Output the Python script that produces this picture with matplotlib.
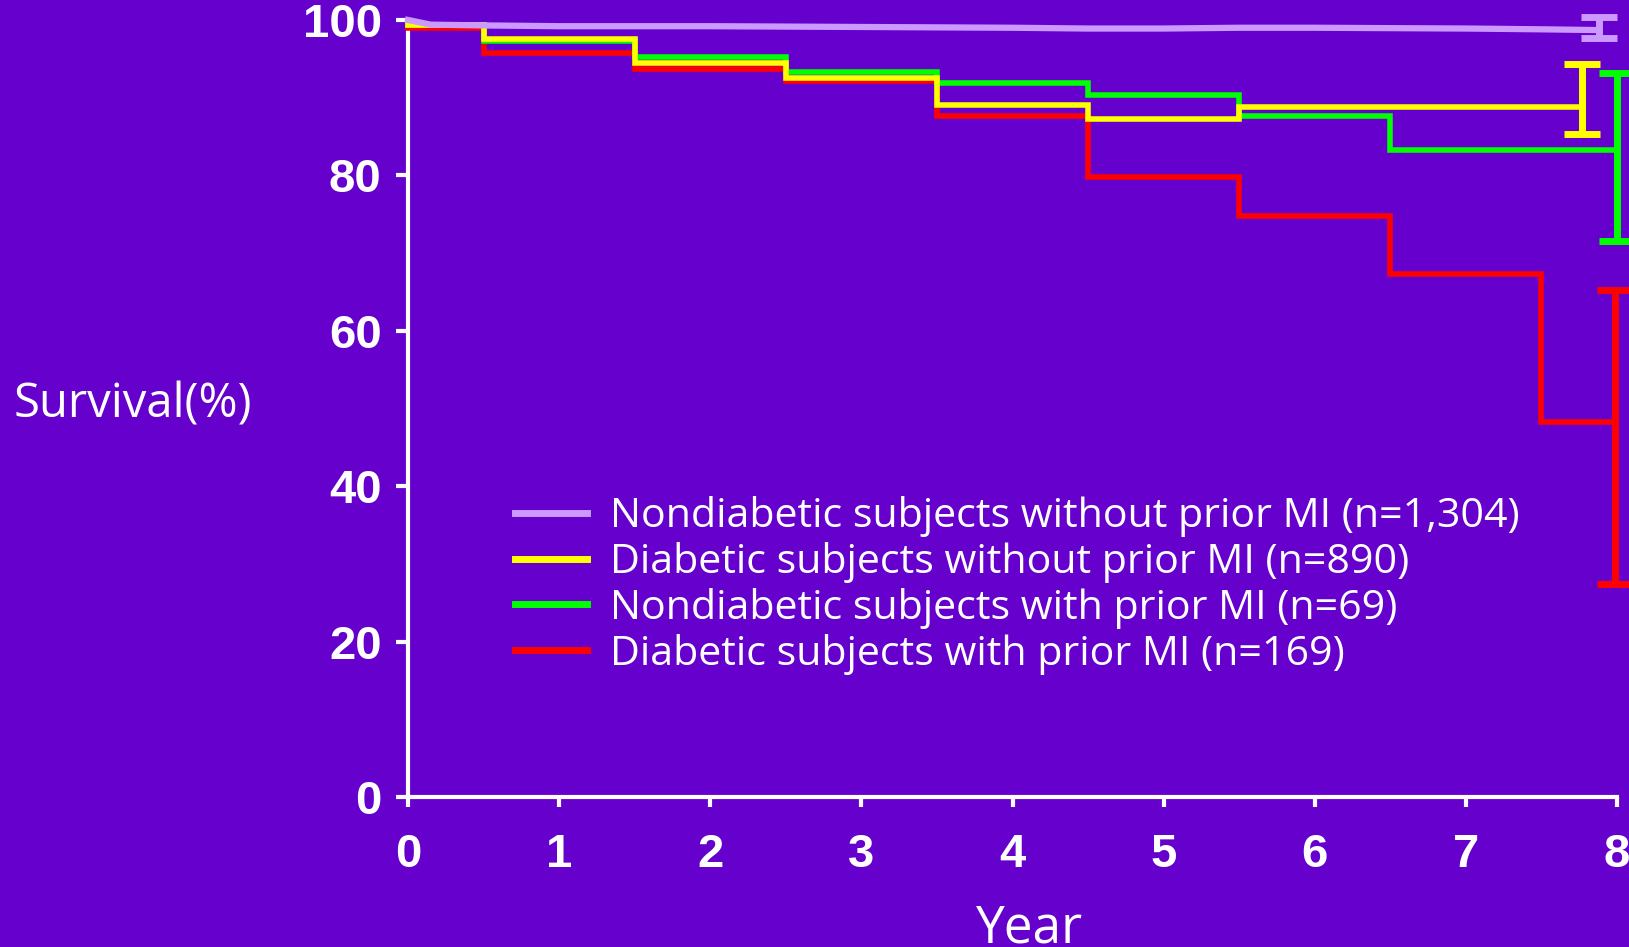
import matplotlib
matplotlib.use('Agg')
import matplotlib.pyplot as plt

BG = '#6600CC'
COLORS = {
    'nd_nomi': '#CC99FF',
    'd_nomi': '#FFFF00',
    'nd_mi': '#00FF00',
    'd_mi': '#FF0000',
}

labels = [
    'Nondiabetic subjects without prior MI (n=1,304)',
    'Diabetic subjects without prior MI (n=890)',
    'Nondiabetic subjects with prior MI (n=69)',
    'Diabetic subjects with prior MI (n=169)',
]

# Kaplan-Meier estimates (survival %, by year)
nd_nomi_t = [0, 0.15, 0.5, 1, 2, 3, 4, 4.5, 5, 5.5, 6, 7, 7.5, 7.88]
nd_nomi_s = [100, 99.4, 99.3, 99.2, 99.2, 99.1, 99.0, 98.9, 98.9, 99.0, 99.0, 98.9, 98.8, 98.7]

d_nomi_t = [0, 0.5, 1.5, 2.5, 3.5, 4.5, 5.5, 7.77]
d_nomi_s = [99.3, 97.6, 94.4, 92.5, 89.0, 87.3, 88.8, 88.8]

nd_mi_t = [0, 0.5, 1.5, 2.5, 3.5, 4.5, 5.5, 6.5, 8.0]
nd_mi_s = [99.3, 97.3, 95.2, 93.3, 91.9, 90.3, 87.7, 83.3, 83.3]

d_mi_t = [0, 0.5, 1.5, 2.5, 3.5, 4.5, 5.5, 6.5, 7.5, 7.99]
d_mi_s = [99.0, 95.7, 93.7, 92.2, 87.6, 79.8, 74.8, 67.3, 48.3, 48.3]

# 95% CI at end of follow-up: (year, lower, upper)
ci_nd_nomi = (7.88, 97.7, 100.4)
ci_d_nomi = (7.77, 85.3, 94.3)
ci_nd_mi = (8.0, 71.5, 93.2)
ci_d_mi = (7.99, 27.4, 65.3)

fig = plt.figure(figsize=(16.29, 9.47), dpi=100, facecolor=BG)
ax = fig.add_axes([0.2505, 0.1584, 0.7421, 0.8205])
ax.set_facecolor(BG)

# (tempos, sobrevida, IC, cor, tipo, ordem de desenho)
series = [
    (nd_nomi_t, nd_nomi_s, ci_nd_nomi, COLORS['nd_nomi'], 'line', 6),
    (d_nomi_t, d_nomi_s, ci_d_nomi, COLORS['d_nomi'], 'step', 5),
    (nd_mi_t, nd_mi_s, ci_nd_mi, COLORS['nd_mi'], 'step', 4),
    (d_mi_t, d_mi_s, ci_d_mi, COLORS['d_mi'], 'step', 3),
]

handles = []
for (t, s, ci, cor, kind, z), lab in zip(series, labels):
    if kind == 'step':
        h, = ax.step(t, s, where='post', color=cor, lw=4, label=lab,
                     solid_joinstyle='miter', clip_on=False, zorder=z)
    else:
        h, = ax.plot(t, s, color=cor, lw=4.5, label=lab, clip_on=False, zorder=z)
    handles.append(h)
    x, lo, hi = ci
    s_end = s[-1]
    eb = ax.errorbar([x], [s_end], yerr=[[s_end - lo], [hi - s_end]], fmt='none',
                     ecolor=cor, elinewidth=5, capsize=13, capthick=5, zorder=z)
    for art in eb.lines[1] + eb.lines[2]:
        art.set_clip_on(False)

ax.set_xlim(0, 8)
ax.set_ylim(0, 100)
ax.set_xticks(range(0, 9))
ax.set_yticks(range(0, 101, 20))

for side in ['top', 'right']:
    ax.spines[side].set_visible(False)
for side in ['left', 'bottom']:
    ax.spines[side].set_color('white')
    ax.spines[side].set_linewidth(3)

ax.tick_params(axis='y', direction='out', length=9, width=3, color='white',
               labelcolor='white', pad=10)
ax.tick_params(axis='x', direction='out', length=7, width=3, color='white',
               labelcolor='white', pad=19)
for lbl in ax.get_xticklabels() + ax.get_yticklabels():
    lbl.set_fontfamily('Liberation Sans')
    lbl.set_fontweight('bold')
    lbl.set_fontsize(34)

leg = ax.legend(handles=handles, loc='upper left', bbox_to_anchor=(515 / 1629, 1 - 496 / 947),
                bbox_transform=fig.transFigure, frameon=False, borderpad=0, borderaxespad=0,
                handlelength=1.75, handletextpad=0.55, labelspacing=0.12,
                prop={'family': 'Open Sans', 'size': 29.6})
for txt in leg.get_texts():
    txt.set_color('white')
for line in leg.get_lines():
    line.set_linewidth(5)

fig.text(133 / 1629, 1 - 405 / 947, 'Survival(%)', ha='center', va='center',
         color='white', fontsize=34, family='Open Sans')
fig.text(1030 / 1629, 1 - 942 / 947, 'Year', ha='center', va='baseline',
         color='white', fontsize=37, family='Open Sans')

fig.savefig('out.png', dpi=100, facecolor=BG)
